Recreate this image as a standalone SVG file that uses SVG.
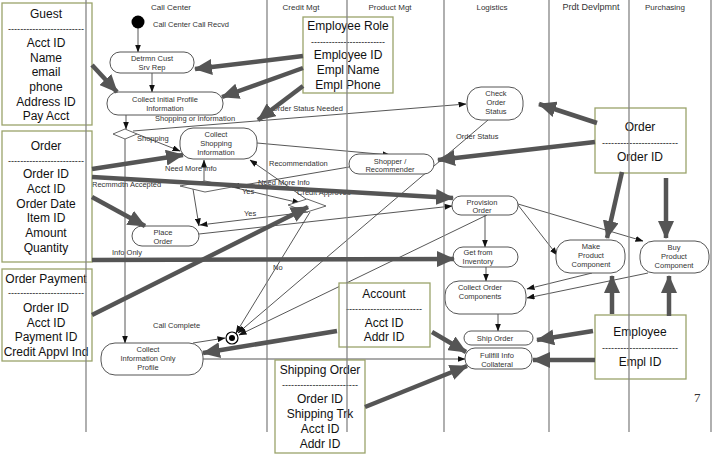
<svg xmlns="http://www.w3.org/2000/svg" width="713" height="455" viewBox="0 0 713 455">
<style>
.lane{stroke:#858585;stroke-width:1.3;fill:none}
.hdr{font-family:"Liberation Sans",Arial,sans-serif;font-size:8px;fill:#333;text-anchor:middle}
.node rect{fill:#fff;stroke:#555;stroke-width:1}
.nt{font-family:"Liberation Sans",Arial,sans-serif;font-size:7.5px;fill:#333;text-anchor:middle}
.lbl{font-family:"Liberation Sans",Arial,sans-serif;font-size:7.5px;fill:#333}
.thin{stroke:#444;stroke-width:0.9;fill:none;marker-end:url(#ah)}
.thick{stroke:#555;stroke-width:4.5;fill:none;marker-end:url(#bh)}
.box rect{fill:#fff;stroke:#9aa36a;stroke-width:1.3}
.bt{font-family:"Liberation Sans",Arial,sans-serif;font-size:12px;fill:#111;text-anchor:middle}
.dash{font-family:"Liberation Sans",Arial,sans-serif;font-size:9px;fill:#111;text-anchor:middle}
.dia{fill:#fff;stroke:#555;stroke-width:0.9}
</style>
<defs>
<marker id="ah" markerUnits="userSpaceOnUse" markerWidth="8" markerHeight="6" refX="7.5" refY="3" orient="auto"><path d="M0,0 L8,3 L0,6 z" fill="#111"/></marker>
<marker id="bh" markerUnits="userSpaceOnUse" markerWidth="18" markerHeight="16" refX="17" refY="8" orient="auto"><path d="M0,0 L18,8 L0,16 z" fill="#555"/></marker>
</defs>
<rect width="713" height="455" fill="#fff"/>

<g id="headers">
<text class="hdr" x="171" y="10">Call Center</text>
<text class="hdr" x="301" y="10">Credit Mgt</text>
<text class="hdr" x="390" y="10">Product Mgt</text>
<text class="hdr" x="492" y="10">Logistics</text>
<text class="hdr" x="591" y="10" style="font-size:9px">Prdt Devlpmnt</text>
<text class="hdr" x="665" y="10">Purchasing</text>
</g>

<g id="connectors">
<line class="thin" x1="138" y1="28" x2="138" y2="52"/>
<line class="thin" x1="152" y1="73" x2="152" y2="92"/>
<line class="thin" x1="126" y1="115" x2="126" y2="129"/>
<line class="thin" x1="137" y1="134" x2="180" y2="151"/>
<line class="thin" x1="133" y1="131" x2="466" y2="104"/>
<line class="thin" x1="125" y1="139" x2="125" y2="343"/>
<line class="thin" x1="257" y1="143" x2="390" y2="155"/>
<line class="thin" x1="349" y1="167" x2="232" y2="187"/>
<line class="thin" x1="204" y1="181" x2="204" y2="160"/>
<line class="thin" x1="193" y1="189" x2="199" y2="226"/>
<line class="thin" x1="232" y1="187" x2="300" y2="203"/>
<line class="thin" x1="308" y1="212" x2="200" y2="225"/>
<line class="thin" x1="306" y1="199" x2="250" y2="160"/>
<line class="thin" x1="199" y1="234" x2="452" y2="206"/>
<line class="thin" x1="310" y1="212" x2="236" y2="333"/>
<line class="thin" x1="488" y1="120" x2="238" y2="333"/>
<line class="thin" x1="487" y1="215" x2="239" y2="335"/>
<line class="thin" x1="193" y1="343" x2="225" y2="338"/>
<line class="thin" x1="485" y1="215" x2="485" y2="247"/>
<line class="thin" x1="518" y1="205" x2="557" y2="255"/>
<line class="thin" x1="518" y1="204" x2="643" y2="241"/>
<line class="thin" x1="486" y1="267" x2="486" y2="281"/>
<line class="thin" x1="592" y1="273" x2="527" y2="289"/>
<line class="thin" x1="648" y1="273" x2="527" y2="298"/>
<line class="thin" x1="498" y1="314" x2="498" y2="331"/>
<line class="thin" x1="203" y1="359" x2="465" y2="359"/>
</g>

<g id="edge-labels">
<text class="lbl" x="153" y="27">Call Center Call Recvd</text>
<text class="lbl" x="155" y="121">Shopping or Information</text>
<text class="lbl" x="272" y="111">Order Status Needed</text>
<text class="lbl" x="137" y="141">Shopping</text>
<text class="lbl" x="165" y="171">Need More Info</text>
<text class="lbl" x="92" y="187">Recmmdtn Accepted</text>
<text class="lbl" x="269" y="166">Recommendation</text>
<text class="lbl" x="258" y="185">Need More Info</text>
<text class="lbl" x="242" y="194">Yes</text>
<text class="lbl" x="297" y="195">Credit Approved</text>
<text class="lbl" x="244" y="216">Yes</text>
<text class="lbl" x="112" y="255">Info Only</text>
<text class="lbl" x="273" y="270">No</text>
<text class="lbl" x="456" y="139">Order Status</text>
<text class="lbl" x="153" y="328">Call Complete</text>
</g>

<g id="start"><circle cx="138" cy="22" r="6.5" fill="#000"/></g>
<g id="final"><circle cx="232" cy="338" r="6" fill="#fff" stroke="#000" stroke-width="1.2"/><circle cx="232" cy="338" r="3" fill="#000"/></g>
<g id="decision-shop"><polygon class="dia" points="113,134 125,129 137,134 125,139"/></g>
<g id="decision-rec"><polygon class="dia" points="180,186 205,181 232,187 205,192"/></g>
<g id="decision-credit"><polygon class="dia" points="288,205 307,199 326,206 307,212"/></g>

<g id="n-detrmn" class="node"><rect x="110" y="52" width="84" height="21" rx="10"/><text class="nt" x="152" y="61">Detrmn Cust</text><text class="nt" x="152" y="70">Srv Rep</text></g>
<g id="n-initial" class="node"><rect x="107" y="92" width="116" height="23" rx="11"/><text class="nt" x="165" y="102">Collect Initial Profile</text><text class="nt" x="165" y="111">Information</text></g>
<g id="n-shopping" class="node"><rect x="180" y="128" width="77" height="31" rx="13"/><text class="nt" x="216" y="137">Collect</text><text class="nt" x="216" y="146">Shopping</text><text class="nt" x="216" y="155">Information</text></g>
<g id="n-shopper" class="node"><rect x="349" y="154" width="85" height="20" rx="10"/><text class="nt" x="390" y="164">Shopper /</text><text class="nt" x="390" y="172">Recommender</text></g>
<g id="n-check" class="node"><rect x="467" y="87" width="56" height="33" rx="14"/><text class="nt" x="496" y="96">Check</text><text class="nt" x="496" y="105">Order</text><text class="nt" x="496" y="114">Status</text></g>
<g id="n-place" class="node"><rect x="132" y="226" width="67" height="20" rx="10"/><text class="nt" x="163" y="235">Place</text><text class="nt" x="163" y="244">Order</text></g>
<g id="n-provision" class="node"><rect x="452" y="196" width="66" height="19" rx="9"/><text class="nt" x="482" y="205">Provision</text><text class="nt" x="482" y="213">Order</text></g>
<g id="n-inventory" class="node"><rect x="453" y="247" width="65" height="20" rx="10"/><text class="nt" x="478" y="255">Get from</text><text class="nt" x="478" y="264">Inventory</text></g>
<g id="n-components" class="node"><rect x="445" y="281" width="81" height="33" rx="14"/><text class="nt" x="480" y="290">Collect Order</text><text class="nt" x="480" y="299">Components</text></g>
<g id="n-ship" class="node"><rect x="464" y="331" width="69" height="14" rx="7"/><text class="nt" x="495" y="341">Ship Order</text></g>
<g id="n-fullfill" class="node"><rect x="465" y="348" width="67" height="21" rx="10"/><text class="nt" x="497" y="358">Fullfill Info</text><text class="nt" x="497" y="367">Collateral</text></g>
<g id="n-make" class="node"><rect x="556" y="240" width="69" height="33" rx="14"/><text class="nt" x="591" y="249">Make</text><text class="nt" x="591" y="258">Product</text><text class="nt" x="591" y="267">Component</text></g>
<g id="n-buy" class="node"><rect x="640" y="241" width="69" height="32" rx="14"/><text class="nt" x="674" y="250">Buy</text><text class="nt" x="674" y="259">Product</text><text class="nt" x="674" y="268">Component</text></g>
<g id="n-infoonly" class="node"><rect x="101" y="343" width="102" height="32" rx="14"/><text class="nt" x="148" y="352">Collect</text><text class="nt" x="148" y="361">Information Only</text><text class="nt" x="148" y="370">Profile</text></g>

<g id="box-guest" class="box"><rect x="2" y="3" width="90" height="122"/>
<text class="bt" x="46" y="18">Guest</text><text class="dash" x="46" y="32" textLength="76" lengthAdjust="spacingAndGlyphs">-------------------------</text>
<text class="bt" x="46" y="47">Acct ID</text><text class="bt" x="46" y="62">Name</text><text class="bt" x="46" y="76">email</text><text class="bt" x="46" y="91">phone</text><text class="bt" x="46" y="106">Address ID</text><text class="bt" x="46" y="120">Pay Acct</text></g>

<g id="box-order-left" class="box"><rect x="2" y="131" width="90" height="131"/>
<text class="bt" x="46" y="150">Order</text><text class="dash" x="46" y="164" textLength="76" lengthAdjust="spacingAndGlyphs">-------------------------</text>
<text class="bt" x="46" y="178">Order ID</text><text class="bt" x="46" y="193">Acct ID</text><text class="bt" x="46" y="208">Order Date</text><text class="bt" x="46" y="222">Item ID</text><text class="bt" x="46" y="237">Amount</text><text class="bt" x="46" y="252">Quantity</text></g>

<g id="box-payment" class="box"><rect x="2" y="269" width="90" height="92"/>
<text class="bt" x="46" y="283">Order Payment</text><text class="dash" x="46" y="296" textLength="76" lengthAdjust="spacingAndGlyphs">-------------------------</text>
<text class="bt" x="46" y="312">Order ID</text><text class="bt" x="46" y="327">Acct ID</text><text class="bt" x="46" y="341">Payment ID</text><text class="bt" x="46" y="356">Credit Appvl Ind</text></g>

<g id="box-emprole" class="box"><rect x="303" y="17" width="90" height="76"/>
<text class="bt" x="348" y="30">Employee Role</text><text class="dash" x="348" y="45" textLength="74" lengthAdjust="spacingAndGlyphs">-------------------------</text>
<text class="bt" x="348" y="59">Employee ID</text><text class="bt" x="348" y="74">Empl Name</text><text class="bt" x="348" y="89">Empl Phone</text></g>

<g id="box-order-right" class="box"><rect x="595" y="108" width="91" height="65"/>
<text class="bt" x="640" y="131">Order</text><text class="dash" x="640" y="146" textLength="76" lengthAdjust="spacingAndGlyphs">-------------------------</text>
<text class="bt" x="640" y="161">Order ID</text></g>

<g id="box-account" class="box"><rect x="339" y="283" width="91" height="64"/>
<text class="bt" x="384" y="298">Account</text><text class="dash" x="384" y="312" textLength="76" lengthAdjust="spacingAndGlyphs">-------------------------</text>
<text class="bt" x="384" y="327">Acct ID</text><text class="bt" x="384" y="341">Addr ID</text></g>

<g id="box-shipping" class="box"><rect x="275" y="360" width="90" height="93"/>
<text class="bt" x="320" y="374">Shipping Order</text><text class="dash" x="320" y="388" textLength="76" lengthAdjust="spacingAndGlyphs">-------------------------</text>
<text class="bt" x="320" y="403">Order ID</text><text class="bt" x="320" y="418">Shipping Trk</text><text class="bt" x="320" y="433">Acct ID</text><text class="bt" x="320" y="448">Addr ID</text></g>

<g id="box-employee" class="box"><rect x="595" y="315" width="91" height="64"/>
<text class="bt" x="640" y="336">Employee</text><text class="dash" x="640" y="351" textLength="76" lengthAdjust="spacingAndGlyphs">-------------------------</text>
<text class="bt" x="640" y="366">Empl ID</text></g>

<g id="lanes">
<line class="lane" x1="86" y1="0" x2="86" y2="432"/>
<line class="lane" x1="267" y1="0" x2="267" y2="432"/>
<line class="lane" x1="347" y1="0" x2="347" y2="432"/>
<line class="lane" x1="444" y1="0" x2="444" y2="432"/>
<line class="lane" x1="549" y1="0" x2="549" y2="432"/>
<line class="lane" x1="629" y1="0" x2="629" y2="432"/>
<line class="lane" x1="711" y1="0" x2="711" y2="432"/>
</g>

<g id="data-connectors">
<line class="thick" x1="92" y1="65" x2="117" y2="92"/>
<line class="thick" x1="303" y1="56" x2="195" y2="69"/>
<line class="thick" x1="303" y1="68" x2="222" y2="97"/>
<line class="thick" x1="303" y1="86" x2="258" y2="120"/>
<line class="thick" x1="597" y1="123" x2="539" y2="104"/>
<line class="thick" x1="595" y1="142" x2="438" y2="160"/>
<line class="thick" x1="622" y1="172" x2="607" y2="238"/>
<line class="thick" x1="666" y1="178" x2="666" y2="238"/>
<line class="thick" x1="92" y1="169" x2="183" y2="155"/>
<line class="thick" x1="92" y1="177" x2="453" y2="198"/>
<line class="thick" x1="92" y1="197" x2="145" y2="226"/>
<line class="thick" x1="92" y1="315" x2="308" y2="207"/>
<line class="thick" x1="92" y1="260" x2="454" y2="259"/>
<line class="thick" x1="337" y1="331" x2="203" y2="353"/>
<line class="thick" x1="432" y1="332" x2="466" y2="352"/>
<line class="thick" x1="365" y1="407" x2="467" y2="366"/>
<line class="thick" x1="593" y1="331" x2="537" y2="340"/>
<line class="thick" x1="595" y1="360" x2="533" y2="360"/>
<line class="thick" x1="612" y1="314" x2="612" y2="276"/>
<line class="thick" x1="669" y1="316" x2="669" y2="276"/>
</g>

<text x="694" y="402" style="font-family:'Liberation Serif','Times New Roman',serif;font-size:13px;fill:#333">7</text>
</svg>
